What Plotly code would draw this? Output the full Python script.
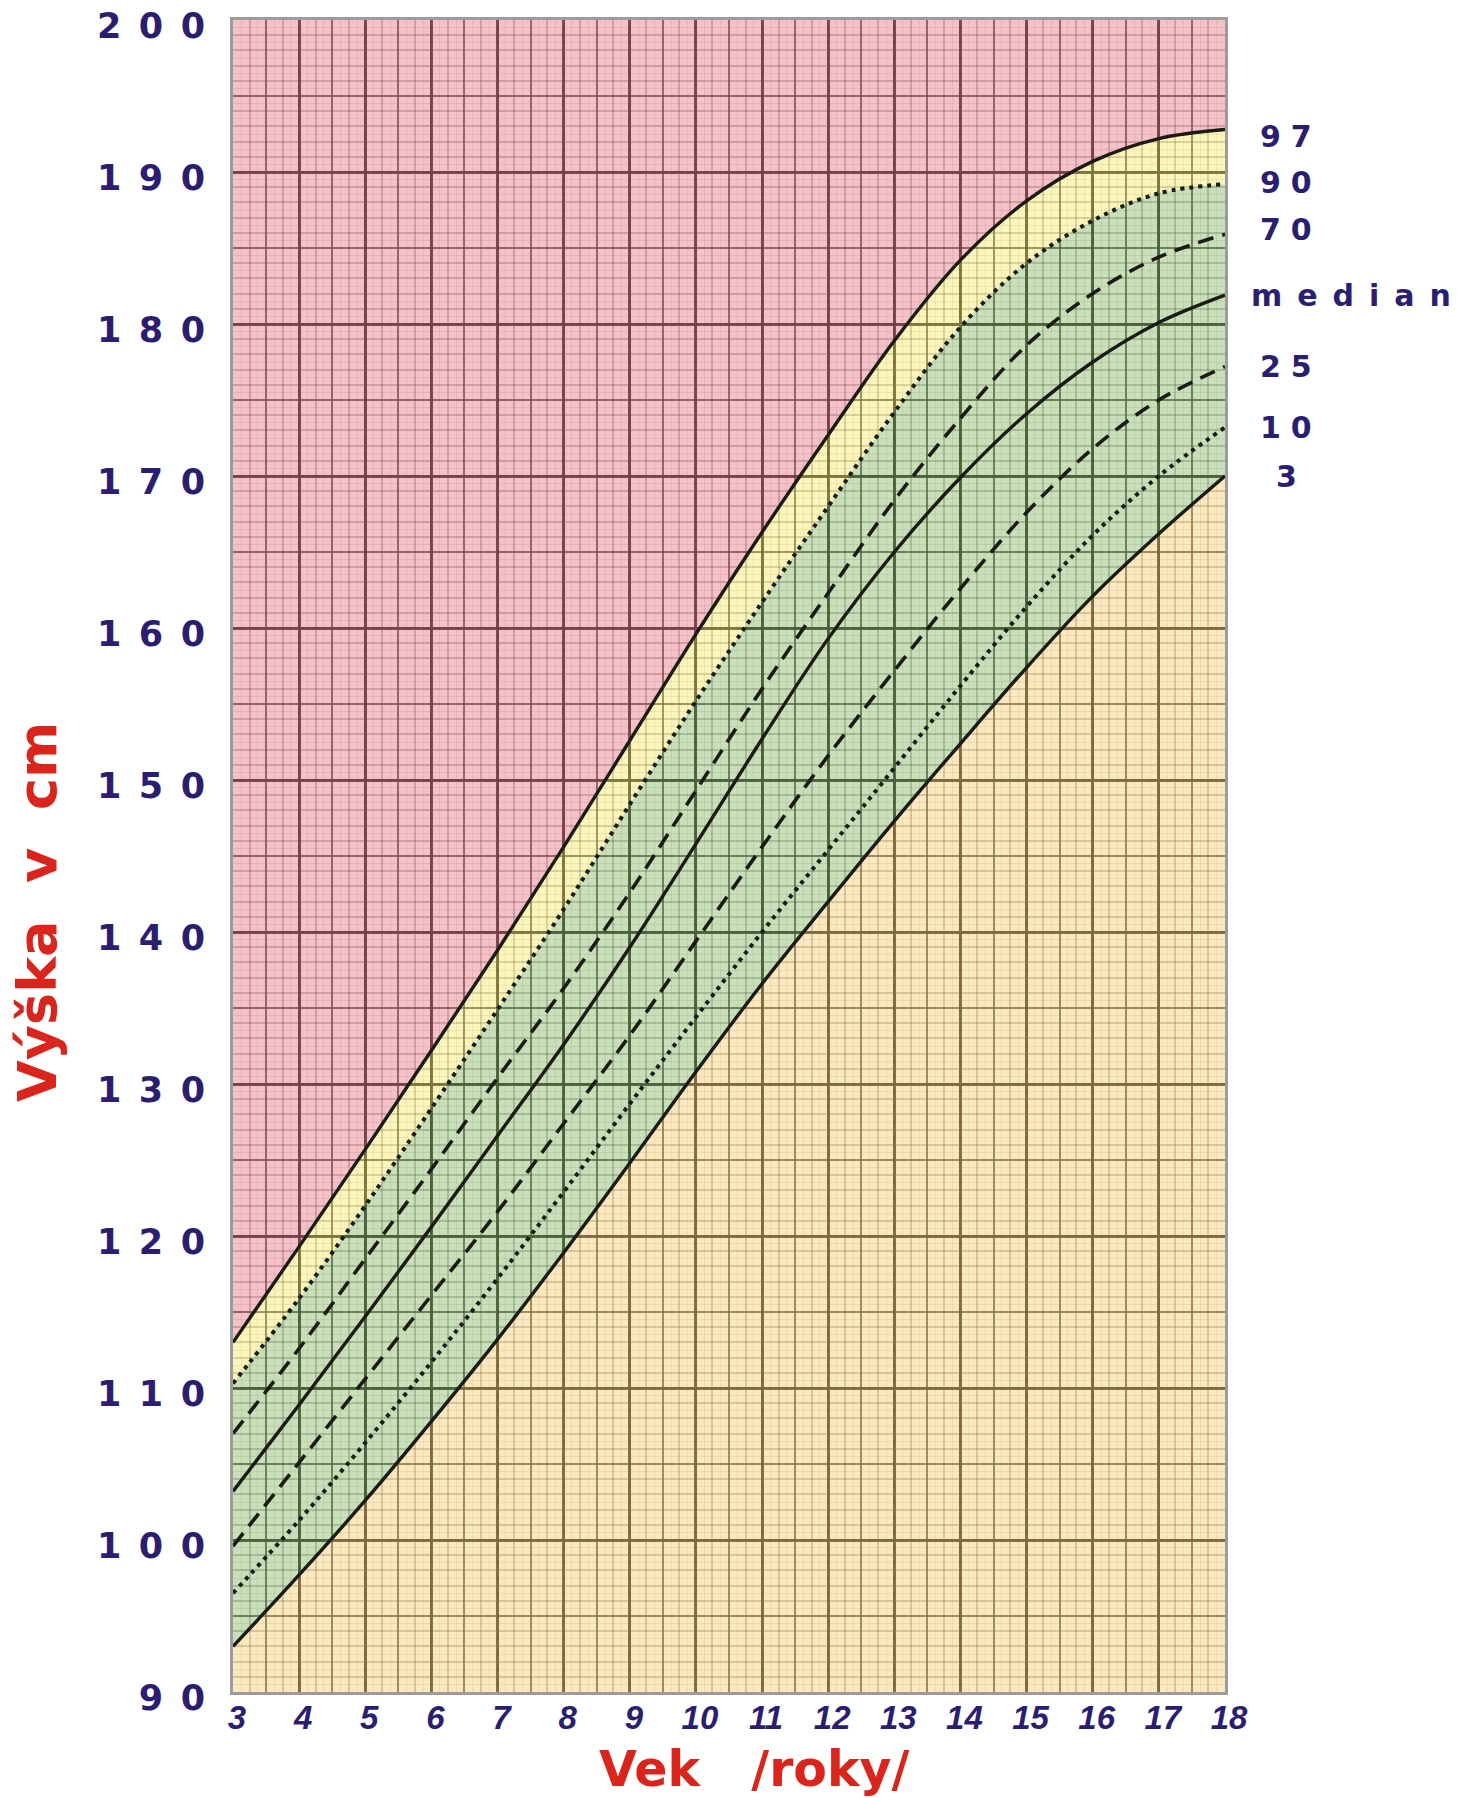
import plotly.graph_objects as go

# ---------------- data ----------------
AGES = list(range(3, 19))
P97 = [113.0, 119.3, 125.7, 132.2, 138.8, 145.6, 152.6, 159.6, 166.3, 172.7, 178.9, 184.2, 188.1, 190.7, 192.2, 192.8]
P90 = [110.3, 115.9, 122.0, 128.4, 134.9, 141.5, 148.4, 155.2, 161.7, 168.0, 174.2, 179.8, 184.0, 186.8, 188.6, 189.2]
P70 = [107.0, 112.6, 118.5, 124.4, 130.4, 136.3, 142.6, 149.3, 156.0, 162.3, 168.4, 173.8, 178.6, 182.0, 184.4, 185.9]
P50 = [103.2, 108.9, 114.7, 120.6, 126.6, 132.6, 139.0, 145.8, 152.7, 159.3, 165.0, 169.9, 174.1, 177.5, 180.1, 181.9]
P25 = [99.6, 105.1, 110.6, 116.1, 121.6, 127.4, 133.2, 139.4, 145.6, 151.6, 157.2, 162.6, 167.6, 171.8, 175.0, 177.2]
P10 = [96.5, 101.3, 106.4, 111.7, 117.2, 122.9, 128.7, 134.4, 140.0, 145.4, 150.8, 156.2, 161.4, 166.1, 170.0, 173.2]
P3 = [93.0, 97.7, 102.6, 107.8, 113.2, 118.9, 124.8, 130.8, 136.6, 142.0, 147.3, 152.4, 157.4, 162.1, 166.2, 170.0]

CURVE_LABELS = ["97", "90", "70", "median", "25", "10", "3"]
Y_TICKS = list(range(90, 201, 10))
X_TICKS = AGES
Y_MIN, Y_MAX = 90, 200
X_MIN, X_MAX = 3, 18

# ---------------- styling ----------------
NAVY = "#2b1e70"
RED = "#da251d"
LINE_COL = "#1b1a14"
PINK_FILL = "rgba(233,132,144,0.5)"
YELLOW_FILL = "rgba(249,235,120,0.5)"
GREEN_FILL = "rgba(146,192,116,0.5)"
PEACH_FILL = "rgba(250,209,126,0.5)"
G_MAJOR = "rgba(0,0,0,0.92)"
G_MED = "rgba(0,0,0,0.62)"
G_MINOR = "rgba(0,0,0,0.28)"
G_FINE = "rgba(0,0,0,0.11)"
SMOOTH = 1.0
LABEL_YSHIFT = {"97": -7, "90": 2, "70": 5}

fig = go.Figure()


def band(y, fill, color):
    fig.add_trace(go.Scatter(
        x=AGES, y=y, mode="lines",
        line=dict(width=0, shape="spline", smoothing=SMOOTH),
        fill=fill, fillcolor=color, hoverinfo="skip", showlegend=False))


band(P3, "tozeroy", PEACH_FILL)
band(P90, "tonexty", GREEN_FILL)
band(P97, "tonexty", YELLOW_FILL)
band([Y_MAX] * len(AGES), "tonexty", PINK_FILL)

curves = [P97, P90, P70, P50, P25, P10, P3]
styles = [("solid", 3.4), ("4px,5px", 4), ("16px,9px", 3.6), ("solid", 3.4),
          ("16px,9px", 3.6), ("4px,5px", 4), ("solid", 3.4)]
for name, y, (d, w) in zip(CURVE_LABELS, curves, styles):
    fig.add_trace(go.Scatter(
        x=AGES, y=y, mode="lines", name=name,
        line=dict(color=LINE_COL, width=w, dash=d, shape="spline", smoothing=SMOOTH),
        showlegend=False, hoverinfo="skip"))

# empty trace to create the overlay subplot that carries the finer graph-paper grid
fig.add_trace(go.Scatter(x=[], y=[], xaxis="x2", yaxis="y2", showlegend=False, hoverinfo="skip"))

SP3 = "\u2002"
fig.update_layout(
    width=1462, height=1798,
    margin=dict(l=225, r=245, t=12, b=114, autoexpand=False),
    paper_bgcolor="white", plot_bgcolor="white",
    showlegend=False,
    xaxis=dict(
        range=[X_MIN, X_MAX], tickmode="array", tickvals=X_TICKS,
        ticktext=[str(v) for v in X_TICKS], automargin=False,
        showgrid=True, gridcolor=G_MAJOR, gridwidth=2.5,
        minor=dict(tickmode="linear", tick0=X_MIN, dtick=0.5, showgrid=True,
                   gridcolor=G_MED, gridwidth=2),
        zeroline=False, ticks="",
        showline=True, mirror=True, linecolor="#9c9c9c", linewidth=3,
        tickfont=dict(family="Liberation Sans", size=33, color=NAVY,
                      weight="bold", style="italic"),
        ticklabelstandoff=-6, ticklabelshift=4, ticklabeloverflow="allow",
    ),
    yaxis=dict(
        range=[Y_MIN, Y_MAX], tickmode="array", tickvals=Y_TICKS,
        ticktext=[SP3.join(str(v)) for v in Y_TICKS], automargin=False,
        showgrid=True, gridcolor=G_MAJOR, gridwidth=2.5,
        minor=dict(tickmode="linear", tick0=Y_MIN, dtick=5, showgrid=True,
                   gridcolor=G_MED, gridwidth=2),
        zeroline=False, ticks="",
        showline=True, mirror=True, linecolor="#9c9c9c", linewidth=3,
        tickfont=dict(family="DejaVu Sans", size=35, color=NAVY, weight="bold"),
        ticklabelstandoff=18, ticklabelshift=6, ticklabeloverflow="allow",
    ),
    xaxis2=dict(
        overlaying="x", range=[X_MIN, X_MAX], tickmode="linear", tick0=X_MIN, dtick=0.25,
        showgrid=True, gridcolor=G_MINOR, gridwidth=1.5, automargin=False,
        minor=dict(tickmode="linear", tick0=X_MIN, dtick=0.125, showgrid=True,
                   gridcolor=G_FINE, gridwidth=1),
        showticklabels=False, ticks="", showline=False, zeroline=False,
    ),
    yaxis2=dict(
        overlaying="y", side="right", range=[Y_MIN, Y_MAX], tickmode="linear",
        tick0=Y_MIN, dtick=1, automargin=False,
        showgrid=True, gridcolor=G_MINOR, gridwidth=1.5,
        minor=dict(tickmode="linear", tick0=Y_MIN, dtick=0.5, showgrid=True,
                   gridcolor=G_FINE, gridwidth=1),
        showticklabels=False, ticks="", showline=False, zeroline=False,
    ),
)

# curve labels at the right end of each curve
for name, y in zip(CURVE_LABELS, curves):
    if name == "median":
        txt, anchor, shift = SP3.join(name), "left", 24
    else:
        txt, anchor, shift = "\u2004".join(name), "center", 61
    fig.add_annotation(
        x=AGES[-1], y=y[-1], xref="x", yref="y", text=txt, showarrow=False,
        xanchor=anchor, yanchor="middle", xshift=shift,
        yshift=LABEL_YSHIFT.get(name, 0),
        font=dict(family="DejaVu Sans", size=30, color=NAVY, weight="bold"))

# axis titles
fig.add_annotation(
    x=(754 - 233) / 992, y=-0.0461, xref="paper", yref="paper",
    text="Vek\u00a0\u00a0\u00a0/roky/", showarrow=False, xanchor="center", yanchor="middle",
    font=dict(family="DejaVu Sans", size=49, color=RED, weight="bold"))
fig.add_annotation(
    x=(37 - 233) / 992, y=(1692 - 912) / 1672, xref="paper", yref="paper",
    text="Výška\u00a0\u00a0v\u00a0\u00a0cm", textangle=-90, showarrow=False,
    xanchor="center", yanchor="middle",
    font=dict(family="DejaVu Sans", size=54, color=RED, weight="bold"))

fig.write_html("out.html")
